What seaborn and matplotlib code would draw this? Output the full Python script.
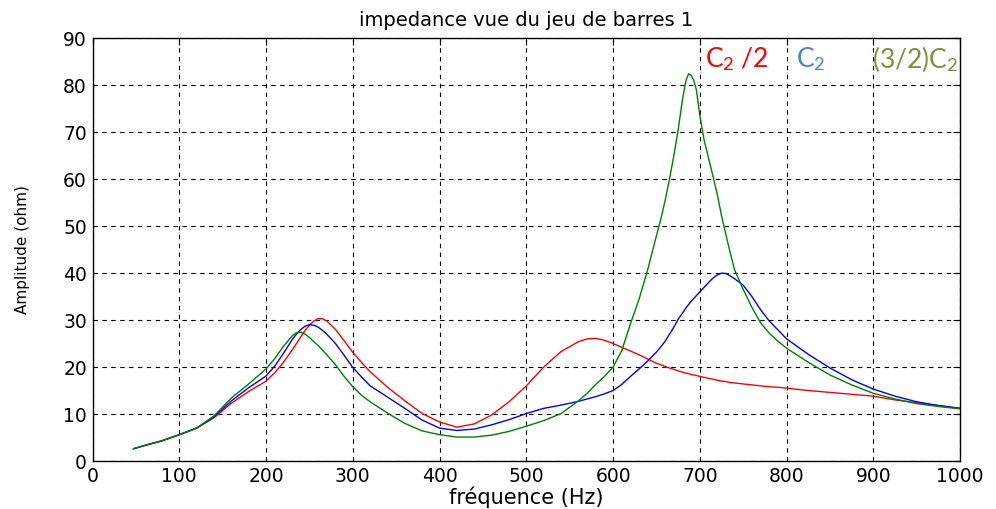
import matplotlib
matplotlib.use("Agg")
import matplotlib.pyplot as plt
import numpy as np
import pandas as pd
import seaborn as sns

# Frequency samples (Hz)
freq = [47, 60, 80, 100, 120, 140, 160, 180, 200, 210, 220, 230, 235, 240, 245,
        250, 255, 260, 265, 270, 280, 290, 300, 310, 320, 340, 360, 380, 400,
        420, 440, 460, 480, 500, 520, 540, 560, 570, 580, 590, 600, 610, 620,
        630, 640, 650, 655, 660, 665, 670, 675, 680, 684, 687, 690, 693, 696,
        700, 705, 710, 715, 720, 725, 730, 735, 740, 750, 760, 770, 780, 790,
        800, 825, 850, 875, 900, 925, 950, 975, 1000]

# Impedance amplitude (ohm) for C2/2
z_half = [2.6, 3.3, 4.3, 5.6, 7.0, 9.2, 12.3, 14.8, 17.0, 18.8, 21.0, 23.6, 25.0,
          26.4, 27.8, 28.9, 29.8, 30.3, 30.3, 29.8, 28.0, 25.6, 23.1, 21.0, 19.0,
          15.7, 12.8, 10.1, 8.3, 7.2, 7.9, 9.8, 12.6, 16.0, 20.0, 23.3, 25.4,
          26.0, 26.1, 25.7, 25.0, 24.2, 23.4, 22.6, 21.7, 20.8, 20.5, 20.1, 19.8,
          19.5, 19.2, 18.9, 18.7, 18.6, 18.4, 18.3, 18.2, 18.0, 17.8, 17.6, 17.4,
          17.2, 17.0, 16.9, 16.7, 16.6, 16.4, 16.2, 16.0, 15.8, 15.7, 15.5, 15.0,
          14.6, 14.2, 13.8, 13.0, 12.4, 11.8, 11.2]

# Impedance amplitude (ohm) for C2
z_one = [2.6, 3.3, 4.3, 5.6, 7.0, 9.4, 12.8, 15.6, 18.1, 20.2, 22.9, 25.8, 27.0,
         28.0, 28.7, 29.0, 28.9, 28.5, 27.8, 27.0, 25.0, 22.5, 19.9, 17.9, 16.0,
         13.6, 11.2, 8.7, 7.0, 6.5, 6.8, 7.7, 8.8, 10.1, 11.2, 11.9, 12.7, 13.2,
         13.7, 14.3, 15.0, 16.3, 18.0, 19.6, 21.3, 23.2, 24.3, 25.5, 27.0, 28.5,
         30.2, 31.5, 32.6, 33.3, 34.0, 34.6, 35.2, 36.0, 37.0, 38.0, 38.9, 39.6,
         40.0, 39.9, 39.4, 38.8, 37.4, 35.0, 32.2, 29.8, 27.9, 26.0, 22.7, 19.8,
         17.3, 15.3, 13.8, 12.6, 11.8, 11.2]

# Impedance amplitude (ohm) for (3/2)C2
z_three_half = [2.6, 3.3, 4.3, 5.6, 7.0, 9.6, 13.4, 16.4, 19.6, 21.8, 24.4, 26.6,
                27.3, 27.4, 27.0, 26.3, 25.4, 24.6, 23.6, 22.6, 20.5, 18.0, 15.8,
                14.0, 12.6, 10.2, 8.0, 6.4, 5.6, 5.1, 5.1, 5.5, 6.3, 7.4, 8.6,
                10.1, 12.8, 14.4, 16.3, 18.0, 20.0, 23.5, 29.2, 34.5, 40.8, 48.0,
                51.5, 55.5, 60.0, 65.0, 70.5, 77.0, 81.0, 82.4, 82.1, 81.0, 79.0,
                73.5, 68.2, 64.5, 60.7, 56.8, 52.2, 48.2, 44.3, 40.7, 36.5, 32.7,
                29.4, 27.2, 25.5, 24.0, 21.0, 18.3, 16.2, 14.4, 13.2, 12.2, 11.6,
                11.1]

series_names = ["C2/2", "C2", "(3/2)C2"]
line_colors = ["#ff0000", "#0000ff", "#008000"]

df = pd.concat([
    pd.DataFrame({"freq": freq, "z": z_half, "case": series_names[0]}),
    pd.DataFrame({"freq": freq, "z": z_one, "case": series_names[1]}),
    pd.DataFrame({"freq": freq, "z": z_three_half, "case": series_names[2]}),
])

sns.set_theme(style="white")
plt.rcParams["font.family"] = ["DejaVu Sans"]
plt.rcParams["text.color"] = "black"
plt.rcParams["axes.labelcolor"] = "black"
plt.rcParams["mathtext.fontset"] = "custom"
plt.rcParams["mathtext.rm"] = "Lato"
plt.rcParams["mathtext.it"] = "Lato:italic"

fig = plt.figure(figsize=(9.96, 5.09), dpi=100)
ax = fig.add_axes([0.0929, 0.0943, 0.8711, 0.8307])

sns.lineplot(data=df, x="freq", y="z", hue="case", palette=line_colors,
             hue_order=series_names, linewidth=1.0, legend=False, ax=ax,
             estimator=None)

ax.set_xlim(0, 1000)
ax.set_ylim(0, 90)
ax.set_xticks(np.arange(0, 1001, 100))
ax.set_yticks(np.arange(0, 91, 10))
ax.grid(True, color="black", linestyle=(0, (4, 4)), linewidth=0.8)
ax.set_axisbelow(True)
for s in ax.spines.values():
    s.set_color("black")
    s.set_linewidth(1.0)
ax.tick_params(axis="both", which="both", direction="in", length=5, width=0.8,
               top=True, right=True, labelsize=13.5, colors="black", pad=4)

ax.set_title("impedance vue du jeu de barres 1", fontsize=14, pad=9,
             color="black")
ax.set_xlabel("fréquence (Hz)", fontsize=15, labelpad=1, color="black")
ax.set_ylabel("Amplitude (ohm)", fontsize=11, labelpad=24, color="black")

# Series captions written inside the plot area
ax.text(706, 85.6, r"C$_2$ /2", color="#ff0000", fontsize=19, family="Lato",
        ha="left", va="center")
ax.text(811, 85.6, r"C$_2$", color="#4f81d0", fontsize=19, family="Lato",
        ha="left", va="center")
ax.text(898, 85.6, r"(3/2)C$_2$", color="#77933c", fontsize=19, family="Lato",
        ha="left", va="center")

fig.savefig("out.png", dpi=100, facecolor="white")
